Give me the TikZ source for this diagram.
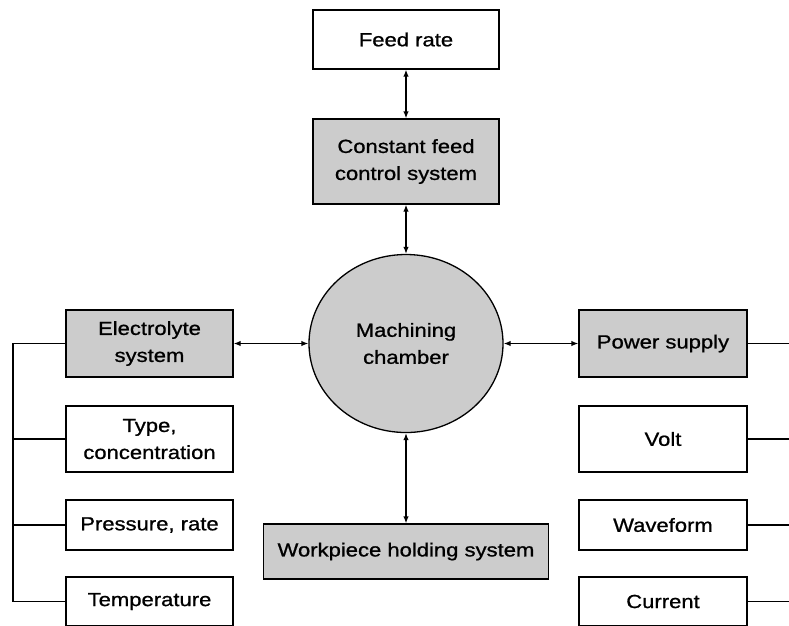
\documentclass[tikz,border=0pt]{standalone}
\usepackage{fontspec}
\setmainfont[FakeStretch=1.16,FakeBold=0.9]{Liberation Sans}
\usetikzlibrary{shapes.geometric,arrows.meta}
\tikzstyle{box}=[draw, fill=white, minimum width=167pt, align=center, inner sep=0pt, font=\fontsize{19}{27}\selectfont]
\tikzstyle{graybox}=[box, fill=black!20]
\tikzstyle{link}=[{Latex[length=7pt,width=5.5pt]}-{Latex[length=7pt,width=5.5pt]}]

\begin{document}
\begin{tikzpicture}[x=1pt, y=-1pt, line width=1.3pt]
\useasboundingbox (0,0) rectangle (789,625);
% Chamber
    \node[graybox, ellipse, minimum width=194pt, minimum height=178pt] (chamber) at (406,343.5) {Machining\\chamber};
% Feed side
    \node[box, minimum width=186pt, minimum height=59pt] (feed) at (406,39.5) {Feed rate};
    \node[graybox, minimum width=186pt, minimum height=85pt] (ctrl) at (406,161.5) {Constant feed\\control system};
% Workpiece
    \node[graybox, minimum width=285pt, minimum height=55pt] (work) at (406,551.5) {Workpiece holding system};
% Electrolyte side
    \node[graybox, minimum height=67pt] (elec) at (149.5,343.5) {Electrolyte\\system};
    \node[box, minimum height=66pt] (type) at (149.5,439) {Type,\\concentration};
    \node[box, minimum height=50pt] (press) at (149.5,525) {Pressure, rate};
    \node[box, minimum height=49pt] (temp) at (149.5,601.5) {Temperature};
% Power side
    \node[graybox, minimum width=168pt, minimum height=67pt] (power) at (663,343.5) {Power supply};
    \node[box, minimum width=168pt, minimum height=66pt] (volt) at (663,439) {Volt};
    \node[box, minimum width=168pt, minimum height=50pt] (wave) at (663,525) {Waveform};
    \node[box, minimum width=168pt, minimum height=49pt] (curr) at (663,601.5) {Current};
% Arrows
    \draw[link] (feed) -- (ctrl);
    \draw[link] (ctrl) -- (chamber);
    \draw[link] (elec) -- (chamber);
    \draw[link] (chamber) -- (power);
    \draw[link] (chamber) -- (work);
% Left bus
    \coordinate (lbus) at (13,343.5);
    \draw (elec.west) -- (lbus) |- (temp.west);
    \draw (lbus |- type.west) -- (type.west);
    \draw (lbus |- press.west) -- (press.west);
% Right lines
    \coordinate (edge) at (789,0);
    \draw (power.east) -- (power.east -| edge);
    \draw (volt.east) -- (volt.east -| edge);
    \draw (wave.east) -- (wave.east -| edge);
    \draw (curr.east) -- (curr.east -| edge);
\end{tikzpicture}
\end{document}
